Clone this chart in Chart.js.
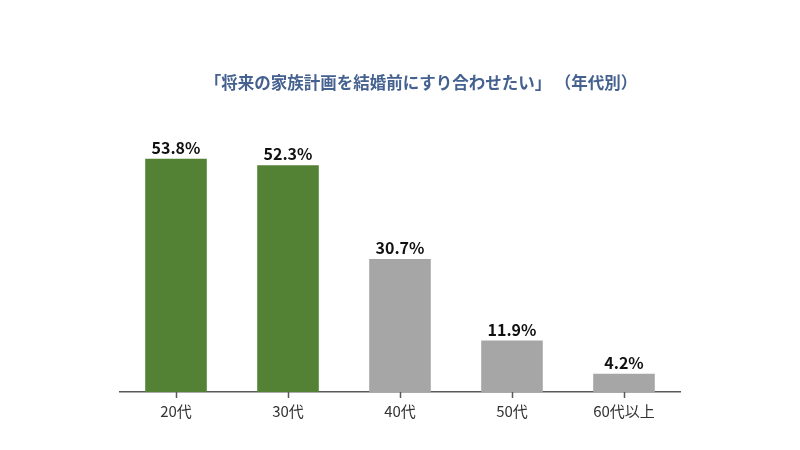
<!DOCTYPE html>
<html>
<head>
<meta charset="utf-8">
<script src="https://cdn.jsdelivr.net/npm/chart.js@4"></script>
<style>
  html, body { margin: 0; padding: 0; background: #fff; }
  #wrap { width: 800px; height: 450px; }
</style>
</head>
<body>
<div id="wrap"><canvas id="c" width="800" height="450"></canvas></div>
<script>
const categories = ['20代', '30代', '40代', '50代', '60代以上'];
const values = [53.8, 52.3, 30.7, 11.9, 4.2];
const barColors = ['#548235', '#548235', '#A6A6A6', '#A6A6A6', '#A6A6A6'];
const titleText = '「将来の家族計画を結婚前にすり合わせたい」 （年代別）';

const FONT = '"Noto Sans CJK JP", "Noto Sans", sans-serif';

// title drawn a bit right of centre like the original
const titlePlugin = {
    id: 'topTitle',
    afterDraw(chart) {
        const ctx = chart.ctx;
        ctx.save();
        ctx.font = 'bold 16.5px ' + FONT;
        ctx.fillStyle = '#44618F';
        ctx.textAlign = 'center';
        ctx.textBaseline = 'middle';
        ctx.fillText(titleText, 421, 83);
        ctx.restore();
    }
};

// small tick marks under the axis, at each category centre
const centreTicks = {
    id: 'centreTicks',
    afterDraw(chart) {
        const ctx = chart.ctx;
        const x = chart.scales.x;
        const y0 = chart.chartArea.bottom;
        ctx.save();
        ctx.strokeStyle = '#595959';
        ctx.lineWidth = 1.5;
        categories.forEach((c, i) => {
            const px = Math.round(x.getPixelForValue(i)) + 0.5;
            ctx.beginPath();
            ctx.moveTo(px, y0);
            ctx.lineTo(px, y0 + 6);
            ctx.stroke();
        });
        ctx.restore();
    }
};

// value labels above each bar
const valueLabels = {
    id: 'valueLabels',
    afterDatasetsDraw(chart) {
        const ctx = chart.ctx;
        const meta = chart.getDatasetMeta(0);
        ctx.save();
        ctx.font = 'bold 16px ' + FONT;
        ctx.fillStyle = '#111';
        ctx.textAlign = 'center';
        ctx.textBaseline = 'bottom';
        meta.data.forEach((bar, i) => {
            ctx.fillText(values[i].toFixed(1) + '%', bar.x, bar.y - 3);
        });
        ctx.restore();
    }
};

new Chart(document.getElementById('c'), {
    type: 'bar',
    data: {
        labels: categories,
        datasets: [{
            data: values,
            backgroundColor: barColors,
            borderWidth: 0,
            barPercentage: 0.55,
            categoryPercentage: 1.0
        }]
    },
    options: {
        responsive: false,
        animation: false,
        layout: { padding: { left: 120, right: 120, top: 132, bottom: 20 } },
        plugins: {
            legend: { display: false },
            title: { display: false },
            tooltip: { enabled: false }
        },
        scales: {
            x: {
                grid: {
                    display: false,
                    drawTicks: false
                },
                border: { display: true, color: '#595959', width: 1.5 },
                ticks: {
                    color: '#333',
                    font: { family: FONT, size: 15 },
                    padding: 10
                }
            },
            y: {
                display: false,
                min: 0,
                max: 60
            }
        }
    },
    plugins: [titlePlugin, valueLabels, centreTicks]
});
</script>
</body>
</html>
